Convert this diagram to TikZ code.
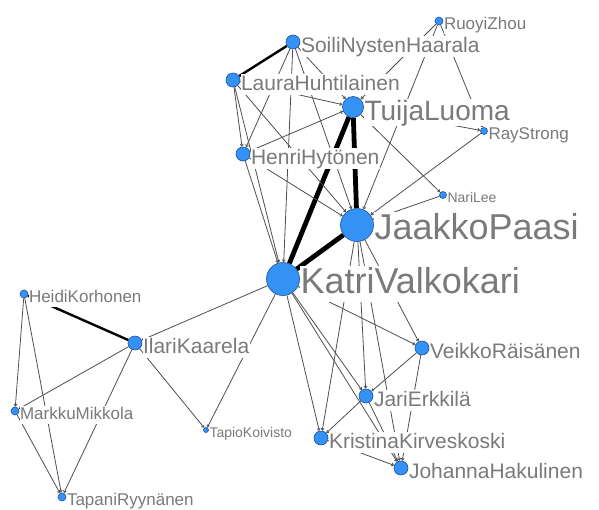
\documentclass[tikz,border=0pt]{standalone}
\usepackage{fontspec}
\setmainfont{Liberation Sans}
\usetikzlibrary{arrows.meta,backgrounds}
\definecolor{nodeblue}{RGB}{52,146,245}
\definecolor{nodeedge}{RGB}{30,80,155}
\definecolor{labelgray}{RGB}{122,122,122}
\definecolor{tiegray}{RGB}{78,78,78}

\begin{document}
\begin{tikzpicture}[x=1pt, y=-1pt]
\tikzset{
    actor/.style={circle, fill=nodeblue, draw=nodeedge, line width=0.6pt, inner sep=0pt, label distance=2pt},
    hub/.style={actor, minimum size=33pt},
    major/.style={actor, minimum size=21pt},
    member/.style={actor, minimum size=14pt},
    minor/.style={actor, minimum size=8pt},
    fringe/.style={actor, minimum size=5pt},
    namebase/.style={text=labelgray, fill=white, inner sep=0.5pt},
    namehuge/.style={namebase, font=\fontsize{36}{36}\selectfont, text height=27pt, text depth=7.6pt, yshift=-5pt},
    namelarge/.style={namebase, font=\fontsize{28}{28}\selectfont, text height=21pt, text depth=5.9pt, yshift=-5.5pt},
    namemid/.style={namebase, font=\fontsize{21}{21}\selectfont, text height=15.8pt, text depth=4.4pt, yshift=-4.5pt},
    namesmall/.style={namebase, font=\fontsize{17}{17}\selectfont, text height=12.8pt, text depth=3.6pt, yshift=-4pt},
    nametiny/.style={namebase, font=\fontsize{14}{14}\selectfont, text height=10.5pt, text depth=2.9pt, yshift=-3.5pt},
    tie/.style={draw=tiegray, line width=0.8pt, -{Straight Barb[length=2pt, width=3pt]}},
    strongtie/.style={draw=black, line width=2.4pt},
    heavytie/.style={draw=black, line width=4.8pt}
}
\useasboundingbox (0,0) rectangle (599,509);

% upper group
\node[minor, label={[namesmall]right:RuoyiZhou}] (ruoyi) at (439,21) {};
\node[member, label={[namemid]right:SoiliNystenHaarala}] (soili) at (293,42) {};
\node[member, label={[namemid]right:LauraHuhtilainen}] (laura) at (233,80) {};
\node[major, label={[namelarge]right:TuijaLuoma}] (tuija) at (353,107) {};
\node[minor, minimum size=7pt, label={[namesmall]right:RayStrong}] (ray) at (484,131) {};
\node[member, label={[namemid]right:HenriHytönen}] (henri) at (243,154) {};
\node[minor, minimum size=7pt, label={[nametiny]right:NariLee}] (nari) at (443,195) {};
\node[hub, label={[namehuge]right:JaakkoPaasi}] (jaakko) at (357,225) {};
\node[hub, label={[namehuge]right:KatriValkokari}] (katri) at (283,279) {};

% lower right group
\node[member, label={[namemid]right:VeikkoRäisänen}] (veikko) at (422,348) {};
\node[member, label={[namemid]right:JariErkkilä}] (jari) at (366,396) {};
\node[member, label={[namemid]right:KristinaKirveskoski}] (kristina) at (321,438) {};
\node[member, label={[namemid]right:JohannaHakulinen}] (johanna) at (401,468) {};

% left group
\node[minor, label={[namesmall]right:HeidiKorhonen}] (heidi) at (24,294) {};
\node[member, label={[namemid]right:IlariKaarela}] (ilari) at (135,343) {};
\node[minor, label={[namesmall]right:MarkkuMikkola}] (markku) at (15,411) {};
\node[fringe, label={[nametiny]right:TapioKoivisto}] (tapio) at (206,430) {};
\node[minor, label={[namesmall]right:TapaniRyynänen}] (tapani) at (62,497) {};

% ties go under the nodes and their white name boxes
\begin{scope}[on background layer]
\draw[strongtie] (soili) -- (laura);
\draw[heavytie] (tuija) -- (jaakko);
\draw[heavytie] (tuija) -- (katri);
\draw[heavytie] (jaakko) -- (katri);
\draw[strongtie] (heidi) -- (ilari);

\draw[tie] (soili) -- (henri);
\draw[tie] (soili) -- (katri);
\draw[tie] (soili) -- (jaakko);
\draw[tie] (soili) -- (tuija);
\draw[tie] (ruoyi) -- (tuija);
\draw[tie] (ruoyi) -- (jaakko);
\draw[tie] (ruoyi) -- (ray);
\draw[tie] (laura) -- (henri);
\draw[tie] (laura) -- (katri);
\draw[tie] (laura) -- (tuija);
\draw[tie] (laura) -- (jaakko);
\draw[tie] (henri) -- (tuija);
\draw[tie] (henri) -- (katri);
\draw[tie] (henri) -- (jaakko);
\draw[tie] (tuija) -- (nari);
\draw[tie] (tuija) -- (ray);
\draw[tie] (ray) -- (jaakko);
\draw[tie] (nari) -- (jaakko);

\draw[tie] (jaakko) -- (veikko);
\draw[tie] (jaakko) -- (jari);
\draw[tie] (jaakko) -- (kristina);
\draw[tie] (jaakko) -- (johanna);
\draw[tie] (katri) -- (veikko);
\draw[tie] (katri) -- (jari);
\draw[tie] (katri) -- (kristina);
\draw[tie] (katri) -- (johanna);
\draw[tie] (veikko) -- (jari);
\draw[tie] (veikko) -- (johanna);
\draw[tie] (jari) -- (kristina);
\draw[tie] (jari) -- (johanna);
\draw[tie] (kristina) -- (johanna);

\draw[tie] (katri) -- (ilari);
\draw[tie] (katri) -- (tapio);
\draw[tie] (ilari) -- (tapio);
\draw[tie] (ilari) -- (markku);
\draw[tie] (ilari) -- (tapani);
\draw[tie] (heidi) -- (markku);
\draw[tie] (heidi) -- (tapani);
\draw[tie] (markku) -- (tapani);
\end{scope}
\end{tikzpicture}
\end{document}
